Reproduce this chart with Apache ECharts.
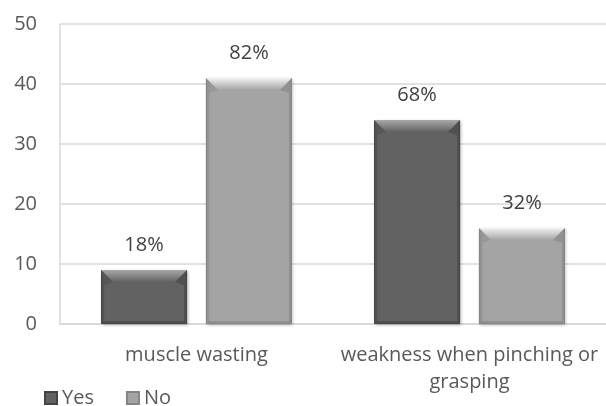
<!DOCTYPE html>
<html>
<head>
<meta charset="utf-8">
<script src="https://cdn.jsdelivr.net/npm/echarts@6/dist/echarts.min.js"></script>
<style>
  html, body { margin: 0; padding: 0; background: #ffffff; }
  #chart { width: 606px; height: 406px; }
</style>
</head>
<body>
<div id="chart"></div>
<script>
// Symptom categories and respondent counts
const categories = ['muscle wasting', 'weakness when pinching or\ngrasping'];
const yesValues = [9, 34];
const noValues = [41, 16];
const yesLabels = ['18%', '68%'];
const noLabels = ['82%', '32%'];
const seriesNames = ['Yes', 'No'];
const yTicks = { min: 0, max: 50, interval: 10 };

const FONT = '"Open Sans", sans-serif';
const FONT_SIZE = 20;
const BAR_W = 86;
const BAR_GAP = 0.22;
const BEVEL = 12;

const palette = {
  Yes: { fill: '#626262', edge: '#444444', hi: '#a8a8a8' },
  No:  { fill: '#a4a4a4', edge: '#858585', hi: '#f2f2f2' }
};

// Bevel highlight drawn over each bar, positioned from the category scale
function bevelRenderer(seriesIdx, colors) {
  return function (params, api) {
    const cat = api.value(0);
    const val = api.value(1);
    const base = api.coord([cat, 0]);
    const top = api.coord([cat, val]);
    const gap = BAR_W * BAR_GAP;
    const total = BAR_W * 2 + gap;
    const x0 = base[0] - total / 2 + seriesIdx * (BAR_W + gap);
    const x1 = x0 + BAR_W;
    const y0 = top[1];
    const y1 = base[1];
    const b = Math.min(BEVEL, (y1 - y0) / 2);
    const s = 3;
    return {
      type: 'group',
      children: [
        {
          type: 'polygon',
          shape: { points: [[x0, y0], [x1, y0], [x1 - b, y0 + b], [x0 + b, y0 + b]] },
          style: {
            fill: new echarts.graphic.LinearGradient(0, 0, 0, 1, [
              { offset: 0, color: colors.hi },
              { offset: 1, color: colors.fill }
            ])
          }
        },
        {
          type: 'polygon',
          shape: { points: [[x0, y0], [x0 + b, y0 + b], [x0 + s, y0 + b + s], [x0 + s, y1 - s], [x0, y1]] },
          style: { fill: colors.edge, opacity: 0.35 }
        },
        {
          type: 'polygon',
          shape: { points: [[x1, y0], [x1 - b, y0 + b], [x1 - s, y0 + b + s], [x1 - s, y1 - s], [x1, y1]] },
          style: { fill: colors.edge, opacity: 0.6 }
        },
        {
          type: 'polygon',
          shape: { points: [[x0, y1], [x0 + s, y1 - s], [x1 - s, y1 - s], [x1, y1]] },
          style: { fill: colors.edge, opacity: 0.6 }
        }
      ]
    };
  };
}

function barSeries(name, values, labels) {
  const c = palette[name];
  return {
    name: name,
    type: 'bar',
    barWidth: BAR_W,
    barGap: (BAR_GAP * 100) + '%',
    data: values,
    itemStyle: {
      color: c.fill,
      borderColor: c.edge,
      borderWidth: 1,
      shadowColor: 'rgba(0,0,0,0.25)',
      shadowBlur: 3,
      shadowOffsetX: 1,
      shadowOffsetY: 1
    },
    label: {
      show: true,
      position: 'top',
      distance: 15,
      color: '#404040',
      fontFamily: FONT,
      fontSize: FONT_SIZE,
      lineHeight: 20,
      formatter: function (p) { return labels[p.dataIndex]; }
    },
    emphasis: { disabled: true },
    z: 2
  };
}

function bevelSeries(idx, name, values) {
  return {
    type: 'custom',
    silent: true,
    z: 3,
    renderItem: bevelRenderer(idx, palette[name]),
    data: values.map(function (v, i) { return [i, v]; }),
    encode: { x: 0, y: 1 },
    tooltip: { show: false }
  };
}

const chart = echarts.init(document.getElementById('chart'));
chart.setOption({
  animation: false,
  backgroundColor: '#ffffff',
  grid: { left: 60, right: 0, top: 24, bottom: 82, containLabel: false },
  legend: {
    data: seriesNames,
    left: 44,
    top: 387,
    padding: 0,
    itemWidth: 12,
    itemHeight: 12,
    itemGap: 32,
    icon: 'rect',
    textStyle: { color: '#595959', fontFamily: FONT, fontSize: FONT_SIZE, lineHeight: 22 }
  },
  xAxis: {
    type: 'category',
    data: categories,
    axisLine: { show: true, lineStyle: { color: '#d9d9d9', width: 2 } },
    axisTick: { show: false },
    axisLabel: {
      color: '#595959',
      fontFamily: FONT,
      fontSize: FONT_SIZE,
      margin: 18,
      lineHeight: 27,
      interval: 0
    },
    splitLine: { show: false }
  },
  yAxis: {
    type: 'value',
    min: yTicks.min,
    max: yTicks.max,
    interval: yTicks.interval,
    axisLine: { show: true, lineStyle: { color: '#d9d9d9', width: 1.5 } },
    axisTick: { show: false },
    axisLabel: { color: '#595959', fontFamily: FONT, fontSize: FONT_SIZE, margin: 23 },
    splitLine: { show: true, lineStyle: { color: '#d9d9d9', width: 1.5 } }
  },
  series: [
    barSeries('Yes', yesValues, yesLabels),
    barSeries('No', noValues, noLabels),
    bevelSeries(0, 'Yes', yesValues),
    bevelSeries(1, 'No', noValues)
  ]
});
</script>
</body>
</html>
